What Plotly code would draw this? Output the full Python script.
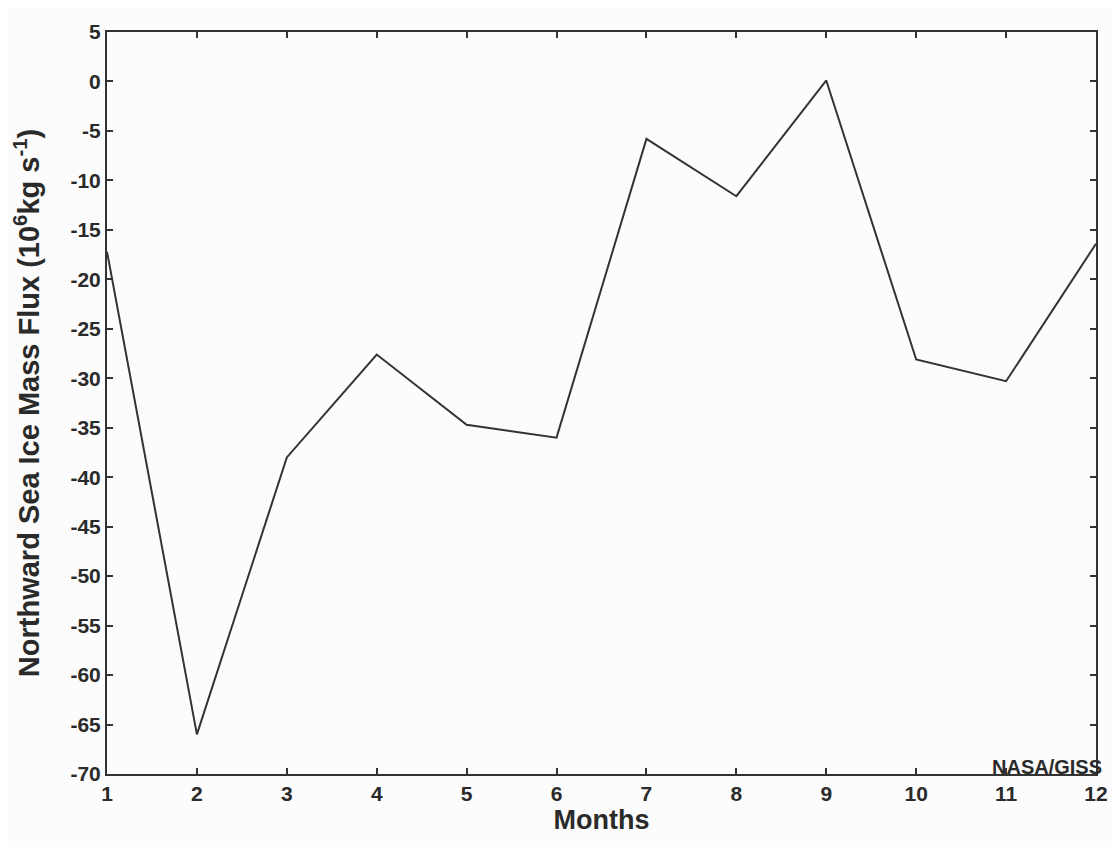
import plotly.graph_objects as go

months = [1, 2, 3, 4, 5, 6, 7, 8, 9, 10, 11, 12]
flux = [-17.2, -66.0, -38.0, -27.6, -34.7, -36.0, -5.8, -11.6, 0.1, -28.1, -30.3, -16.4]

x_ticks = list(range(1, 13))
y_ticks = list(range(-70, 6, 5))
y_labels = [str(v) for v in y_ticks]  # plain hyphen like the original

tick_font = dict(family="Liberation Sans", size=21, color="#2a2a2a", weight="bold")

fig = go.Figure()
fig.add_trace(go.Scatter(
    x=months, y=flux, mode="lines",
    line=dict(color="#333333", width=2),
    showlegend=False,
))

fig.update_xaxes(
    range=[1, 12], tickvals=x_ticks, ticks="inside", ticklen=6, tickwidth=1.5,
    tickcolor="#333333", showline=True, linecolor="#333333", linewidth=2,
    mirror="ticks", showgrid=False, zeroline=False, tickfont=tick_font,
    title=dict(text="Months", standoff=4,
               font=dict(family="Liberation Sans", size=27, color="#2a2a2a", weight="bold")),
)
fig.update_yaxes(
    range=[-70, 5], tickvals=y_ticks, ticktext=y_labels, ticks="inside", ticklen=6,
    tickwidth=1.5, tickcolor="#333333", showline=True, linecolor="#333333", linewidth=2,
    mirror="ticks", showgrid=False, zeroline=False, tickfont=tick_font,
    title=dict(text="Northward Sea Ice Mass Flux (10<sup>6</sup>kg s<sup>-1</sup>)", standoff=22,
               font=dict(family="Liberation Sans", size=29, color="#2a2a2a", weight="bold")),
)

fig.add_annotation(
    text="NASA/GISS", x=1, y=0, xref="paper", yref="paper",
    xanchor="right", yanchor="bottom", showarrow=False, xshift=8, yshift=-6,
    font=dict(family="Liberation Sans", size=20, color="#2a2a2a", weight="bold"),
)

# page body has an 8px margin, so shift the plot area up/left by that much
fig.update_layout(
    width=1120, height=847,
    margin=dict(l=99, r=32, t=20, b=81),
    plot_bgcolor="#fbfcfb", paper_bgcolor="#fbfcfb",
)

fig.write_html("out.html")
